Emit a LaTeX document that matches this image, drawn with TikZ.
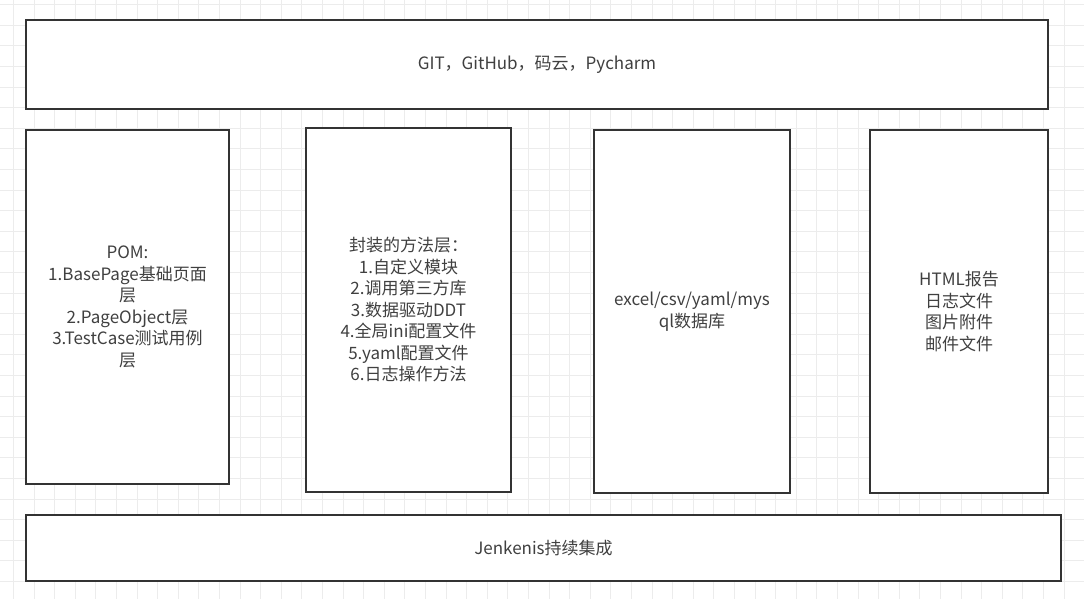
\documentclass[tikz,border=0pt]{standalone}
\usepackage{fontspec}
\setmainfont{Noto Sans CJK SC}
\usetikzlibrary{positioning}
\definecolor{boxline}{HTML}{333333}
\definecolor{boxtext}{HTML}{404040}
\definecolor{gridgray}{HTML}{ECECEC}
\tikzset{
  basic/.style  = {draw=boxline, line width=1.8pt, fill=white, rectangle, anchor=north west,
                   outer sep=0pt, inner sep=0pt, align=center, text=boxtext,
                   font=\fontsize{17}{21.5}\selectfont},
  bar/.style    = {basic, minimum height=89pt},
  column/.style = {basic, minimum height=363pt},
  gridline/.style = {draw=gridgray, line width=0.7pt}
}
\begin{document}
\begin{tikzpicture}[x=1pt, y=-1pt]
\useasboundingbox (0,0) rectangle (1084,599);
\fill[white] (0,0) rectangle (1084,599);

% background grid
\foreach \i in {0,...,52}
  \draw[gridline] ({13.4+\i*20.6},0) -- ({13.4+\i*20.6},599);
\foreach \j in {0,...,29}
  \draw[gridline] (0,{4.6+\j*20.6}) -- (1084,{4.6+\j*20.6});

% top bar, tools
\node[bar, minimum width=1022pt] (tools) at (26,20) {GIT，GitHub，码云，Pycharm};

% the four layers
\node[column, minimum width=203pt, minimum height=354pt] (pom) at (26,130)
  {POM:\\1.BasePage基础页面\\层\\2.PageObject层\\3.TestCase测试用例\\层};
\node[column, minimum width=205pt, minimum height=364pt] (method) at (306,128)
  {封装的方法层：\\1.自定义模块\\2.调用第三方库\\3.数据驱动DDT\\4.全局ini配置文件\\5.yaml配置文件\\6.日志操作方法};
\node[column, minimum width=196pt] (data) at (594,130)
  {excel/csv/yaml/mys\\ql数据库};
\node[column, minimum width=178pt] (report) at (870,130)
  {HTML报告\\日志文件\\图片附件\\邮件文件};

% bottom bar, continuous integration
\node[bar, minimum width=1035pt, minimum height=66pt] (ci) at (26,515) {Jenkenis持续集成};
\end{tikzpicture}
\end{document}
